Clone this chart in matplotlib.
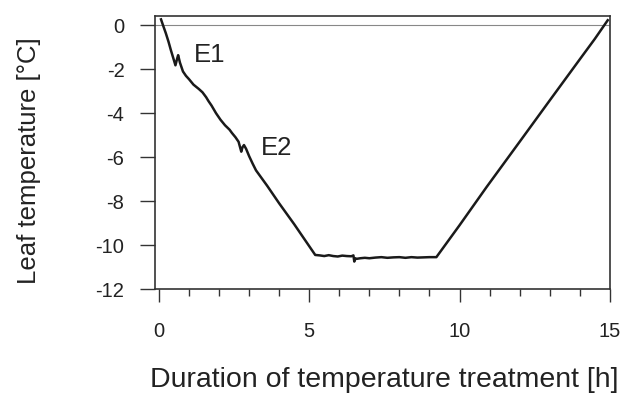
import matplotlib
matplotlib.use("Agg")
import matplotlib.pyplot as plt
import matplotlib.ticker as mticker

plt.rcParams['font.family'] = ['Liberation Sans', 'DejaVu Sans']
plt.rcParams['axes.unicode_minus'] = False

# leaf temperature trace
hours = [0.07, 0.15, 0.23, 0.32, 0.40, 0.48, 0.55, 0.60, 0.64, 0.70, 0.80,
         0.90, 1.00, 1.15, 1.33, 1.45, 1.57, 1.65, 1.75, 1.90, 2.05, 2.20,
         2.35, 2.43, 2.55, 2.65, 2.74, 2.78, 2.83, 2.90, 3.00, 3.12, 3.23,
         3.6, 4.0, 4.5, 5.0, 5.2, 5.35, 5.5, 5.65, 5.8, 5.95, 6.1, 6.25,
         6.4, 6.47, 6.5, 6.53, 6.56, 6.7, 6.85, 7.0, 7.2, 7.4, 7.6, 7.8,
         8.0, 8.2, 8.4, 8.6, 8.8, 9.0, 9.23, 10.0, 10.9, 12.0, 12.33, 13.0,
         14.0, 14.5, 14.93]
temp = [0.27, -0.05, -0.36, -0.75, -1.14, -1.5, -1.82, -1.55, -1.36, -1.7,
        -2.1, -2.3, -2.45, -2.7, -2.9, -3.05, -3.27, -3.45, -3.65, -4.0,
        -4.3, -4.55, -4.75, -4.9, -5.1, -5.3, -5.75, -5.55, -5.45, -5.62,
        -5.95, -6.3, -6.6, -7.3, -8.1, -9.05, -10.05, -10.45, -10.47, -10.5,
        -10.46, -10.5, -10.52, -10.48, -10.5, -10.51, -10.47, -10.75, -10.6,
        -10.63, -10.6, -10.58, -10.6, -10.57, -10.55, -10.58, -10.56, -10.55,
        -10.58, -10.55, -10.57, -10.56, -10.55, -10.55, -9.1, -7.36, -5.3,
        -4.68, -3.42, -1.55, -0.62, 0.23]

events = ["E1", "E2"]
event_x = [1.17, 3.4]
event_y = [-1.36, -5.6]

fig = plt.figure(figsize=(6.21, 4.12), dpi=100)
ax = fig.add_axes([0.2496, 0.2985, 0.7324, 0.6625])

ax.axhline(0, color='#888888', linewidth=0.8, zorder=1)
ax.plot(hours, temp, color='#1a1a1a', linewidth=1.8, zorder=2)

for name, x, y in zip(events, event_x, event_y):
    ax.text(x, y, name, fontsize=18.5, color='#222222', va='center', ha='left')

ax.set_xlim(-0.13, 15.0)
ax.set_ylim(-12, 0.42)
ax.set_xticks([0, 5, 10, 15])
ax.xaxis.set_minor_locator(mticker.MultipleLocator(1))
ax.set_yticks(range(-12, 1, 2))
ax.tick_params(axis='x', which='major', length=9, width=1, labelsize=14.5,
               pad=15, colors='#333333', labelcolor='#222222')
ax.tick_params(axis='x', which='minor', length=5, width=1, colors='#333333')
ax.tick_params(axis='y', which='major', length=11, width=1, labelsize=14.5,
               pad=11, colors='#333333', labelcolor='#222222')
for s in ax.spines.values():
    s.set_color('#333333')
    s.set_linewidth(1.2)

ax.set_xlabel('Duration of temperature treatment [h]', fontsize=20.5,
              color='#222222')
ax.set_ylabel('Leaf temperature [°C]', fontsize=18.5, color='#222222')
ax.xaxis.set_label_coords(0.505, -0.285)
ax.yaxis.set_label_coords(-0.25, 0.47)

fig.savefig('out.png', dpi=100)
